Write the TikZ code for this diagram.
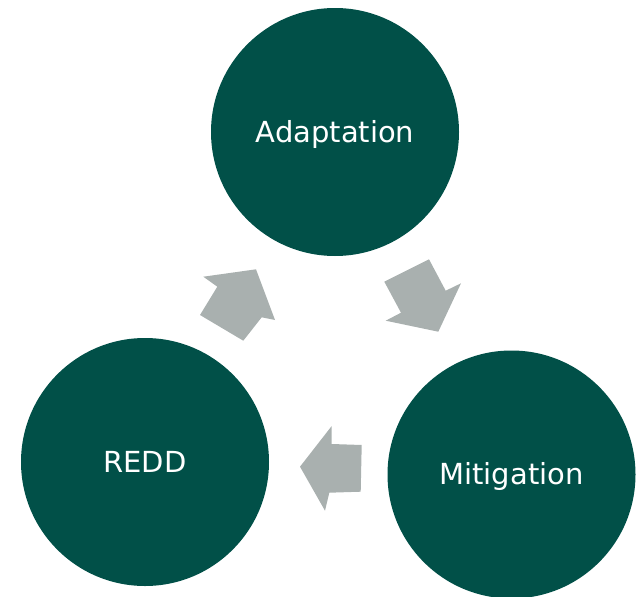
\documentclass[tikz,border=0pt]{standalone}
\usepackage{fontspec}
\setmainfont{DejaVu Sans}
\definecolor{cyclegreen}{RGB}{1,80,72}
\definecolor{cyclegray}{RGB}{169,176,175}
\begin{document}
\begin{tikzpicture}[x=1pt,y=-1pt,
  stage/.style={circle,fill=cyclegreen,draw=none,minimum size=248pt,inner sep=0pt,
    text=white,font=\fontsize{29}{34}\selectfont,text height=22pt,text depth=2pt},
  flow/.style={fill=cyclegray,draw=none}]
\useasboundingbox (0,0) rectangle (640,597);
% the three stages of the cycle
\node[stage] (adapt) at (335,132) {Adaptation};
\node[stage] (mitig) at (511.5,474.5) {Mitigation};
\node[stage] (redd)  at (145,462) {REDD};
% block arrows between the stages
\fill[flow] (384.3,281.7) -- (429,259.3) -- (445.7,290.7) -- (461,283.3)
  -- (438.3,331.7) -- (385.7,320.7) -- (401,312.7) -- cycle;
\fill[flow] (361.7,445) -- (331.7,444) -- (331.7,426) -- (300,466.7)
  -- (325,510.7) -- (329.3,492.7) -- (360.7,491.7) -- cycle;
\fill[flow] (243.3,340.7) -- (200,315) -- (217.3,286.7) -- (203.3,276.7)
  -- (256,269.3) -- (275,320) -- (261.7,317.3) -- cycle;
\end{tikzpicture}
\end{document}
